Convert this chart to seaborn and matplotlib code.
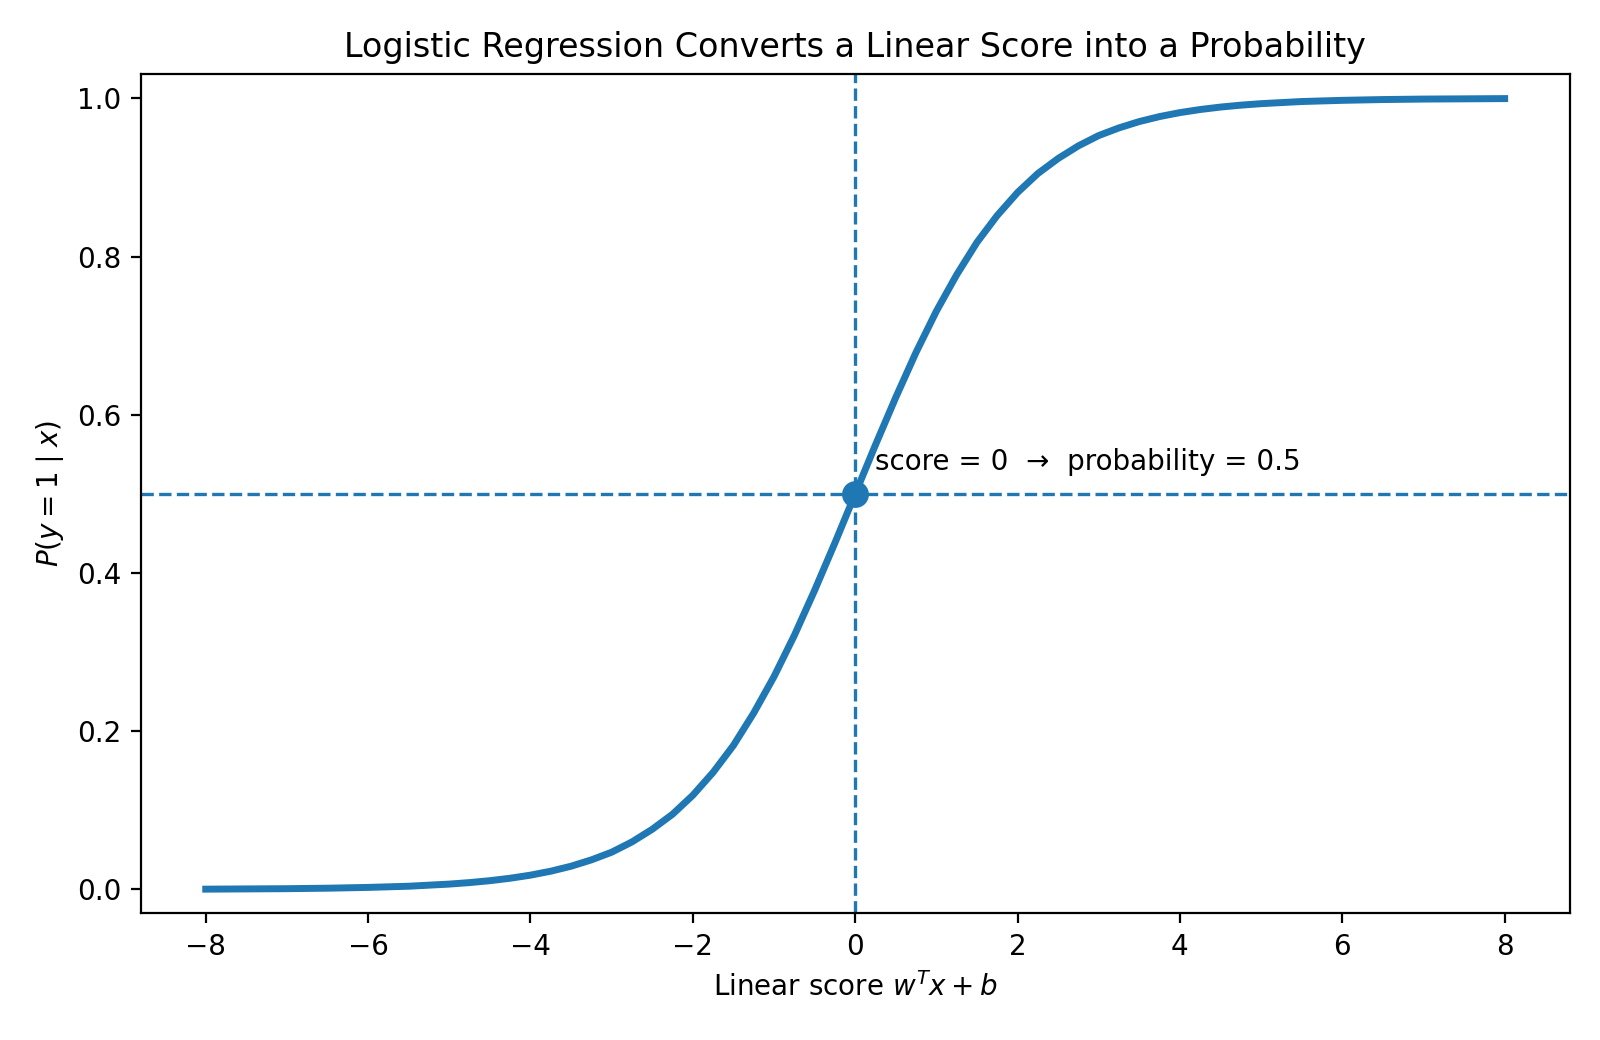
import matplotlib
matplotlib.use("Agg")
import matplotlib.pyplot as plt
import seaborn as sns
import pandas as pd

# Values
score = [-8.0, -7.5, -7.0, -6.5, -6.0, -5.5,
         -5.0, -4.75, -4.5, -4.25, -4.0, -3.75, -3.5, -3.25, -3.0,
         -2.75, -2.5, -2.25, -2.0, -1.75, -1.5, -1.25, -1.0, -0.75, -0.5, -0.25,
         0.0, 0.25, 0.5, 0.75, 1.0, 1.25, 1.5, 1.75, 2.0, 2.25, 2.5, 2.75, 3.0,
         3.25, 3.5, 3.75, 4.0, 4.25, 4.5, 4.75, 5.0,
         5.5, 6.0, 6.5, 7.0, 7.5, 8.0]
prob = [0.0003, 0.0006, 0.0009, 0.0015, 0.0025, 0.004,
        0.0067, 0.0086, 0.011, 0.0141, 0.018, 0.023, 0.0293, 0.0373, 0.047,
        0.060, 0.076, 0.095, 0.119, 0.148, 0.182, 0.223, 0.269, 0.321, 0.378, 0.438,
        0.5, 0.562, 0.622, 0.679, 0.731, 0.777, 0.818, 0.852, 0.881, 0.905, 0.924, 0.940, 0.953,
        0.9627, 0.9707, 0.977, 0.982, 0.9859, 0.989, 0.9914, 0.9933,
        0.996, 0.9975, 0.9985, 0.9991, 0.9994, 0.9997]
mid_score = [0.0]
mid_prob = [0.5]

color = "#1f77b4"
df = pd.DataFrame({"score": score, "prob": prob})

fig, ax = plt.subplots(figsize=(8, 5.2), dpi=200)
fig.subplots_adjust(left=0.088, right=0.981, top=0.929, bottom=0.122)

sns.lineplot(data=df, x="score", y="prob", ax=ax, color=color, linewidth=2.5)
ax.axhline(0.5, linestyle="--", color=color, linewidth=1.2)
ax.axvline(0.0, linestyle="--", color=color, linewidth=1.2)
sns.scatterplot(x=mid_score, y=mid_prob, ax=ax, color=color, s=80, edgecolor=color, zorder=5)
ax.text(0.25, 0.53, "score = 0  \u2192  probability = 0.5", fontsize=10)

ax.set_ylim(-0.03, 1.031)
ax.set_title("Logistic Regression Converts a Linear Score into a Probability", fontsize=12)
ax.set_xlabel(r"Linear score $w^T x + b$")
ax.set_ylabel(r"$P(y=1 \mid x)$")

fig.savefig("out.png", dpi=200)
